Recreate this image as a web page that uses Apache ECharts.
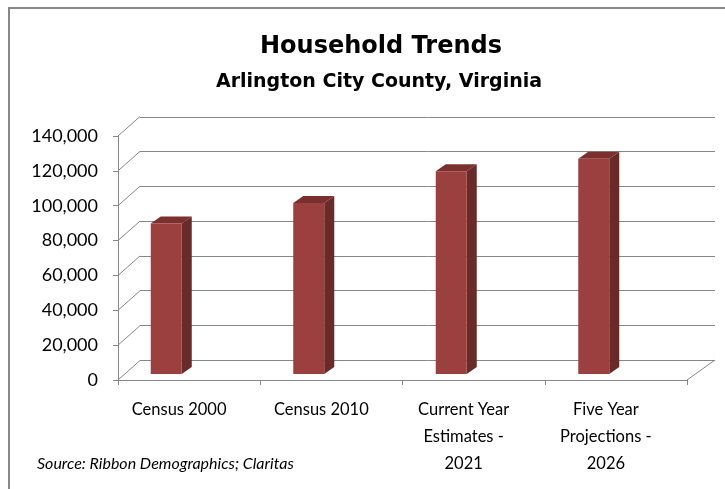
<!DOCTYPE html>
<html>
<head>
<meta charset="utf-8">
<script src="https://cdn.jsdelivr.net/npm/echarts@6/dist/echarts.min.js"></script>
<style>
html,body{margin:0;padding:0;background:#fff;}
#chart{width:725px;height:489px;}
</style>
</head>
<body>
<div id="chart"></div>
<script>
const categories = ['Census 2000', 'Census 2010', 'Current Year\nEstimates -\n2021', 'Five Year\nProjections -\n2026'];
const households = [86350, 98050, 116300, 123500];
const yTicks = [0, 20000, 40000, 60000, 80000, 100000, 120000, 140000];
const titleText = 'Household Trends';
const subtitleText = 'Arlington City County, Virginia';
const sourceText = 'Source: Ribbon Demographics; Claritas';

const labelFont = 'Lato, "Open Sans", sans-serif';
const titleFont = '"DejaVu Sans", "Liberation Sans", Arial, sans-serif';
const gridColor = '#878787';
const FRONT = '#9b403e', SIDE = '#6a2a28', TOP = '#7b302e';

const chart = echarts.init(document.getElementById('chart'), null, {renderer: 'canvas'});

const option = {
  backgroundColor: '#fff',
  animation: false,
  title: [
    {text: titleText, left: 376, top: 30, textAlign: 'center',
     textStyle: {fontFamily: titleFont, fontWeight: 'bold', fontSize: 24, color: '#000'}},
    {text: subtitleText, left: 374, top: 68, textAlign: 'center',
     textStyle: {fontFamily: titleFont, fontWeight: 'bold', fontSize: 19, color: '#000'}}
  ],
  graphic: [
    {type: 'rect', shape: {x: 9, y: 8, width: 780, height: 540}, style: {fill: 'none', stroke: '#888', lineWidth: 2}, silent: true},
    {type: 'text', left: 37, top: 456, style: {text: sourceText, font: 'italic 16px ' + labelFont, fill: '#000'}}
  ],
  grid: [
    {left: 118, top: 136, width: 569, height: 244},   // front plane (axes)
    {left: 140, top: 117, width: 575, height: 243},   // back wall (gridlines)
    {left: 95, top: 130, width: 570, height: 244}     // bar plane
  ],
  xAxis: [
    {gridIndex: 0, type: 'category', data: categories, boundaryGap: true,
     axisLine: {lineStyle: {color: gridColor, width: 1}},
     axisTick: {show: true, length: 5, lineStyle: {color: gridColor}},
     axisLabel: {margin: 16, fontFamily: labelFont, fontSize: 16.5, color: '#000', lineHeight: 27, padding: [0, 20, 0, 0], interval: 0}},
    {gridIndex: 1, type: 'category', data: categories, show: false},
    {gridIndex: 2, type: 'category', data: categories, show: false}
  ],
  yAxis: [
    {gridIndex: 0, type: 'value', min: 0, max: 140000, interval: 20000,
     axisLine: {show: true, lineStyle: {color: gridColor, width: 1}},
     axisTick: {show: true, length: 5, lineStyle: {color: gridColor}},
     splitLine: {show: false},
     axisLabel: {margin: 20, fontFamily: labelFont, fontSize: 18, color: '#000',
       formatter: v => v.toLocaleString('en-US')}},
    {gridIndex: 1, type: 'value', min: 0, max: 140000, interval: 20000,
     axisLine: {show: false}, axisTick: {show: false}, axisLabel: {show: false},
     splitLine: {show: true, lineStyle: {color: gridColor, width: 1}}},
    {gridIndex: 2, type: 'value', min: 0, max: 140000, interval: 20000, show: false,
     splitLine: {show: false}}
  ],
  series: [
    {
      type: 'custom', xAxisIndex: 0, yAxisIndex: 0, silent: true,
      data: yTicks.map(v => [0, v]),
      renderItem: function (params, api) {
        const cs = params.coordSys;
        const p = api.coord([0, api.value(1)]);
        const children = [{type: 'line', shape: {x1: cs.x, y1: p[1], x2: cs.x + 22, y2: p[1] - 19.5},
          style: {stroke: gridColor, lineWidth: 1}}];
        if (api.value(1) === 0) {
          children.push({type: 'line', shape: {x1: cs.x + cs.width, y1: p[1], x2: cs.x + cs.width + 28, y2: p[1] - 20},
            style: {stroke: gridColor, lineWidth: 1}});
        }
        return {type: 'group', children: children};
      }
    },
    {
      type: 'custom', xAxisIndex: 2, yAxisIndex: 2, silent: true,
      data: households.map((v, i) => [i, v]),
      renderItem: function (params, api) {
        const i = api.value(0), v = api.value(1);
        const top = api.coord([i, v]);
        const base = api.coord([i, 0]);
        const w = 31, dx = 10, dy = 7;
        const x = top[0] - w / 2;
        return {type: 'group', children: [
          {type: 'polygon', shape: {points: [[x + w, top[1]], [x + w + dx, top[1] - dy], [x + w + dx, base[1] - dy], [x + w, base[1]]]},
           style: {fill: SIDE}},
          {type: 'polygon', shape: {points: [[x, top[1]], [x + dx, top[1] - dy], [x + w + dx, top[1] - dy], [x + w, top[1]]]},
           style: {fill: TOP}},
          {type: 'rect', shape: {x: x, y: top[1], width: w, height: base[1] - top[1]},
           style: {fill: FRONT}}
        ]};
      }
    }
  ]
};
chart.setOption(option);
</script>
</body>
</html>
